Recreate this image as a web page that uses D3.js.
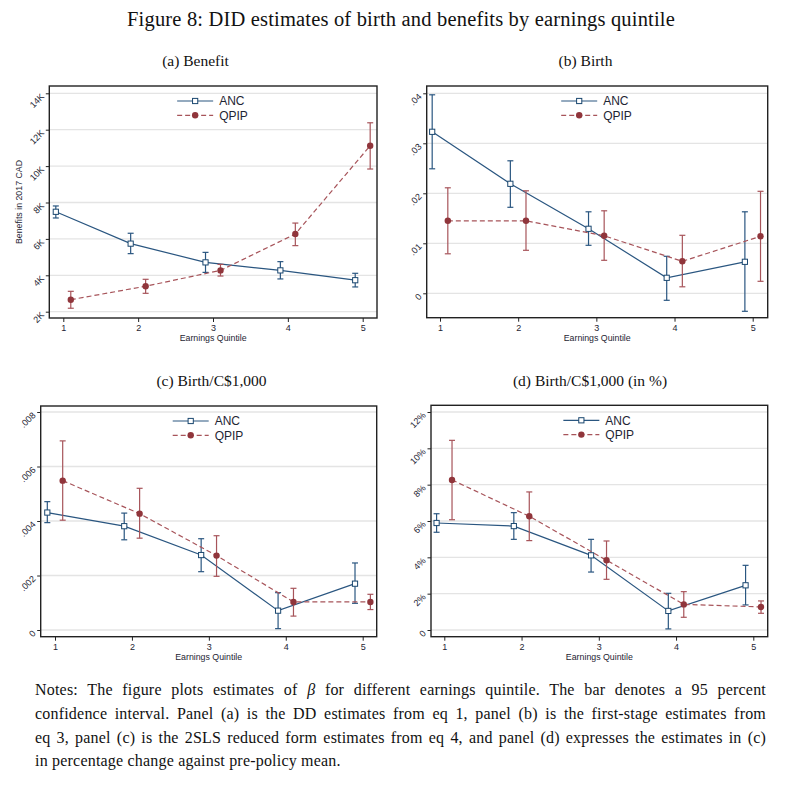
<!DOCTYPE html>
<html><head><meta charset="utf-8">
<script src="https://cdn.jsdelivr.net/npm/d3@7/dist/d3.min.js"></script>
<style>body{margin:0;background:#fff}svg{display:block}</style>
</head><body>
<svg id="c" width="802" height="786"></svg>
<script>
// ---------- DATA ----------
const quintiles = [1, 2, 3, 4, 5];
const seriesNames = ["ANC", "QPIP"];

// (a) Benefit, thousands of 2017 CAD
const benefitANC     = [7.49, 5.74, 4.71, 4.27, 3.73];
const benefitANCLo   = [7.15, 5.19, 4.16, 3.80, 3.36];
const benefitANCHi   = [7.81, 6.31, 5.26, 4.75, 4.11];
const benefitQPIP    = [2.66, 3.40, 4.27, 6.27, 11.12];
const benefitQPIPLo  = [2.19, 3.01, 3.96, 5.63, 9.84];
const benefitQPIPHi  = [3.12, 3.78, 4.60, 6.87, 12.38];
const benefitTicks   = [2, 4, 6, 8, 10, 12, 14];
const benefitTickLabels = ["2K", "4K", "6K", "8K", "10K", "12K", "14K"];

// (b) Birth
const birthANC    = [0.0323, 0.0219, 0.0129, 0.0031, 0.0063];
const birthANCLo  = [0.0249, 0.0172, 0.0096, -0.0014, -0.0036];
const birthANCHi  = [0.0397, 0.0265, 0.0163, 0.0074, 0.0163];
const birthQPIP   = [0.0145, 0.0145, 0.0115, 0.0064, 0.0114];
const birthQPIPLo = [0.0079, 0.0086, 0.0066, 0.0013, 0.0024];
const birthQPIPHi = [0.0211, 0.0205, 0.0165, 0.0116, 0.0204];
const birthTicks  = [0, 0.01, 0.02, 0.03, 0.04];
const birthTickLabels = ["0", ".01", ".02", ".03", ".04"];

// (c) Birth / C$1,000
const perkANC    = [0.00431, 0.00381, 0.00275, 0.00071, 0.00170];
const perkANCLo  = [0.00394, 0.00331, 0.00214, 0.00005, 0.00098];
const perkANCHi  = [0.00471, 0.00429, 0.00335, 0.00137, 0.00246];
const perkQPIP   = [0.00548, 0.00427, 0.00273, 0.00103, 0.00103];
const perkQPIPLo = [0.00403, 0.00337, 0.00197, 0.00051, 0.00075];
const perkQPIPHi = [0.00694, 0.00520, 0.00346, 0.00153, 0.00131];
const perkTicks  = [0, 0.002, 0.004, 0.006, 0.008];
const perkTickLabels = ["0", ".002", ".004", ".006", ".008"];

// (d) Birth / C$1,000 in %
const pctANC    = [5.89, 5.72, 4.11, 1.05, 2.46];
const pctANCLo  = [5.38, 4.99, 3.19, 0.06, 1.38];
const pctANCHi  = [6.40, 6.46, 4.99, 2.02, 3.56];
const pctQPIP   = [8.26, 6.26, 3.84, 1.41, 1.27];
const pctQPIPLo = [6.07, 4.92, 2.79, 0.70, 0.92];
const pctQPIPHi = [10.44, 7.60, 4.90, 2.11, 1.60];
const pctTicks  = [0, 2, 4, 6, 8, 10, 12];
const pctTickLabels = ["0", "2%", "4%", "6%", "8%", "10%", "12%"];

const figureTitle = "Figure 8: DID estimates of birth and benefits by earnings quintile";
const panelTitles = ["(a) Benefit", "(b) Birth", "(c) Birth/C$1,000", "(d) Birth/C$1,000 (in %)"];
const xAxisTitle = "Earnings Quintile";
const yAxisTitleA = "Benefits in 2017 CAD";
const notesLines = [
  ["Notes: The figure plots estimates of ", {it:"β"}, " for different earnings quintile. The bar denotes a 95 percent"],
  ["confidence interval. Panel (a) is the DD estimates from eq 1, panel (b) is the first-stage estimates from"],
  ["eq 3, panel (c) is the 2SLS reduced form estimates from eq 4, and panel (d) expresses the estimates in (c)"],
  ["in percentage change against pre-policy mean."]
];

// ---------- LAYOUT / STYLE ----------
const NAVY = "#1a476f", MAROON = "#90353b";
const SANS = "'Liberation Sans', Arial, sans-serif";
const SERIF = "'Liberation Serif', 'Times New Roman', serif";
const TXT = "#1e2533";
const svg = d3.select("#c");

const panels = [
  {box:[49.3, 86, 377, 318], xr:[63.3, 362.7], yd:[2, 14], yr:[311.7, 93.3],
   ticks:benefitTicks, labels:benefitTickLabels,
   anc:[benefitANC, benefitANCLo, benefitANCHi], qpip:[benefitQPIP, benefitQPIPLo, benefitQPIPHi], ytitle:yAxisTitleA},
  {box:[426.7, 86, 767.7, 317.7], xr:[440, 752.7], yd:[0, 0.04], yr:[293.3, 93.3],
   ticks:birthTicks, labels:birthTickLabels,
   anc:[birthANC, birthANCLo, birthANCHi], qpip:[birthQPIP, birthQPIPLo, birthQPIPHi]},
  {box:[40.7, 406, 376.7, 636.7], xr:[55, 362.7], yd:[0, 0.008], yr:[630, 412],
   ticks:perkTicks, labels:perkTickLabels,
   anc:[perkANC, perkANCLo, perkANCHi], qpip:[perkQPIP, perkQPIPLo, perkQPIPHi]},
  {box:[431, 405.3, 767.7, 636.7], xr:[444.3, 753.3], yd:[0, 12], yr:[630, 412],
   ticks:pctTicks, labels:pctTickLabels,
   anc:[pctANC, pctANCLo, pctANCHi], qpip:[pctQPIP, pctQPIPLo, pctQPIPHi]}
];

const DODGE = 0.1;

panels.forEach(p => {
  const [x0, y0, x1, y1] = p.box;
  const x = d3.scaleLinear().domain([1, 5]).range(p.xr);
  const y = d3.scaleLinear().domain(p.yd).range(p.yr);
  const g = svg.append("g");

  // grid
  g.append("g").selectAll("line").data(p.ticks).join("line")
    .attr("x1", x0).attr("x2", x1)
    .attr("y1", d => y(d)).attr("y2", d => y(d))
    .attr("stroke", "#e4e4e4").attr("stroke-width", 1.3);

  // y axis
  const ya = g.append("g").attr("transform", `translate(${x0},0)`)
    .call(d3.axisLeft(y).tickValues(p.ticks).tickFormat((d, i) => p.labels[i]).tickSize(3.5));
  ya.select(".domain").remove();
  ya.selectAll(".tick line").attr("stroke", "#222").attr("stroke-width", 1);
  ya.selectAll(".tick text")
    .attr("x", null).attr("dy", null)
    .attr("text-anchor", "end")
    .attr("transform", "translate(-4.5,3.4) rotate(-45)")
    .attr("fill", TXT).style("font-family", SANS).style("font-size", "9px");

  // x axis
  const xa = g.append("g").attr("transform", `translate(0,${y1})`)
    .call(d3.axisBottom(x).tickValues(quintiles).tickFormat(d3.format("d")).tickSize(4).tickPadding(3));
  xa.select(".domain").remove();
  xa.selectAll(".tick line").attr("stroke", "#222").attr("stroke-width", 1);
  xa.selectAll(".tick text").attr("fill", TXT).style("font-family", SANS).style("font-size", "9px");

  g.append("text").attr("x", (x0 + x1) / 2).attr("y", y1 + 23.3)
    .attr("text-anchor", "middle").attr("fill", TXT)
    .style("font-family", SANS).style("font-size", "8.8px").text(xAxisTitle);

  if (p.ytitle) {
    g.append("text").attr("transform", `translate(${x0 - 27},${(y0 + y1) / 2}) rotate(-90)`)
      .attr("text-anchor", "middle").attr("fill", TXT)
      .style("font-family", SANS).style("font-size", "8.8px").text(p.ytitle);
  }

  const series = [
    {vals:p.anc, dx:-DODGE, color:NAVY, dash:null, marker:"square"},
    {vals:p.qpip, dx:DODGE, color:MAROON, dash:"5,3", marker:"circle"}
  ];

  series.forEach(s => {
    const pts = quintiles.map((q, i) => ({q, v:s.vals[0][i], lo:s.vals[1][i], hi:s.vals[2][i]}));
    const lineColor = s.marker === "circle" ? "#a7545a" : "#2a5680";
    g.append("path").datum(pts)
      .attr("fill", "none").attr("stroke", lineColor).attr("stroke-width", 1.2)
      .attr("stroke-dasharray", s.dash)
      .attr("d", d3.line().x(d => x(d.q + s.dx)).y(d => y(d.v)));
    // CI bars
    const ci = g.append("g").attr("stroke", lineColor).attr("stroke-width", 1.2).attr("fill", "none");
    ci.selectAll(".v").data(pts).join("line")
      .attr("x1", d => x(d.q + s.dx)).attr("x2", d => x(d.q + s.dx))
      .attr("y1", d => y(d.lo)).attr("y2", d => y(d.hi));
    ci.selectAll(".t").data(pts).join("line")
      .attr("x1", d => x(d.q + s.dx) - 3).attr("x2", d => x(d.q + s.dx) + 3)
      .attr("y1", d => y(d.hi)).attr("y2", d => y(d.hi));
    ci.selectAll(".b").data(pts).join("line")
      .attr("x1", d => x(d.q + s.dx) - 3).attr("x2", d => x(d.q + s.dx) + 3)
      .attr("y1", d => y(d.lo)).attr("y2", d => y(d.lo));
    // markers
    if (s.marker === "square") {
      g.append("g").selectAll("rect").data(pts).join("rect")
        .attr("x", d => x(d.q + s.dx) - 2.6).attr("y", d => y(d.v) - 2.6)
        .attr("width", 5.2).attr("height", 5.2)
        .attr("fill", "#fff").attr("stroke", s.color).attr("stroke-width", 1);
    } else {
      g.append("g").selectAll("circle").data(pts).join("circle")
        .attr("cx", d => x(d.q + s.dx)).attr("cy", d => y(d.v)).attr("r", 3.2)
        .attr("fill", s.color);
    }
  });

  // frame
  g.append("rect").attr("x", x0).attr("y", y0).attr("width", x1 - x0).attr("height", y1 - y0)
    .attr("fill", "none").attr("stroke", "#222").attr("stroke-width", 1.4);

  // legend
  const cx = (x0 + x1) / 2;
  const leg = g.append("g");
  seriesNames.forEach((name, i) => {
    const ly = y0 + 15 + i * 14.3;
    const col = i === 0 ? "#2a5680" : "#a7545a";
    leg.append("line").attr("x1", cx - 36).attr("x2", cx).attr("y1", ly).attr("y2", ly)
      .attr("stroke", col).attr("stroke-width", 1.2).attr("stroke-dasharray", i === 0 ? null : "5,3");
    if (i === 0) {
      leg.append("rect").attr("x", cx - 18 - 2.6).attr("y", ly - 2.6).attr("width", 5.2).attr("height", 5.2)
        .attr("fill", "#fff").attr("stroke", NAVY).attr("stroke-width", 1);
    } else {
      leg.append("circle").attr("cx", cx - 18).attr("cy", ly).attr("r", 3.2).attr("fill", MAROON);
    }
    leg.append("text").attr("x", cx + 6).attr("y", ly + 4.3).attr("fill", TXT)
      .style("font-family", SANS).style("font-size", "12px").text(name);
  });
});

// ---------- TEXT ----------
function fitLetters(sel, target) {
  const n = sel.text().length;
  const w = sel.node().getComputedTextLength();
  sel.attr("letter-spacing", ((target - w) / n).toFixed(3));
}
const title = svg.append("text").attr("x", 127).attr("y", 26)
  .attr("fill", "#111").style("font-family", SERIF).style("font-size", "20.5px").text(figureTitle);
fitLetters(title, 548);

const ptPos = [[195.5, 66], [585.5, 66], [211.5, 386], [590, 386]];
panelTitles.forEach((t, i) => {
  svg.append("text").attr("x", ptPos[i][0]).attr("y", ptPos[i][1]).attr("text-anchor", "middle")
    .attr("fill", "#111").style("font-family", SERIF).style("font-size", "15.5px").text(t);
});

const noteY = [695, 719, 742.5, 766];
notesLines.forEach((parts, i) => {
  const t = svg.append("text").attr("x", 35).attr("y", noteY[i]).attr("fill", "#111")
    .attr("letter-spacing", 0.2)
    .style("font-family", SERIF).style("font-size", "16px").attr("xml:space", "preserve");
  parts.forEach(part => {
    if (typeof part === "string") t.append("tspan").text(part);
    else t.append("tspan").attr("font-style", "italic").text(part.it);
  });
  if (i < notesLines.length - 1) {
    const full = parts.map(p => typeof p === "string" ? p : p.it).join("");
    const spaces = (full.match(/ /g) || []).length;
    const w = t.node().getComputedTextLength();
    t.attr("word-spacing", ((731 - w) / spaces).toFixed(3));
  }
});
</script>
</body></html>
